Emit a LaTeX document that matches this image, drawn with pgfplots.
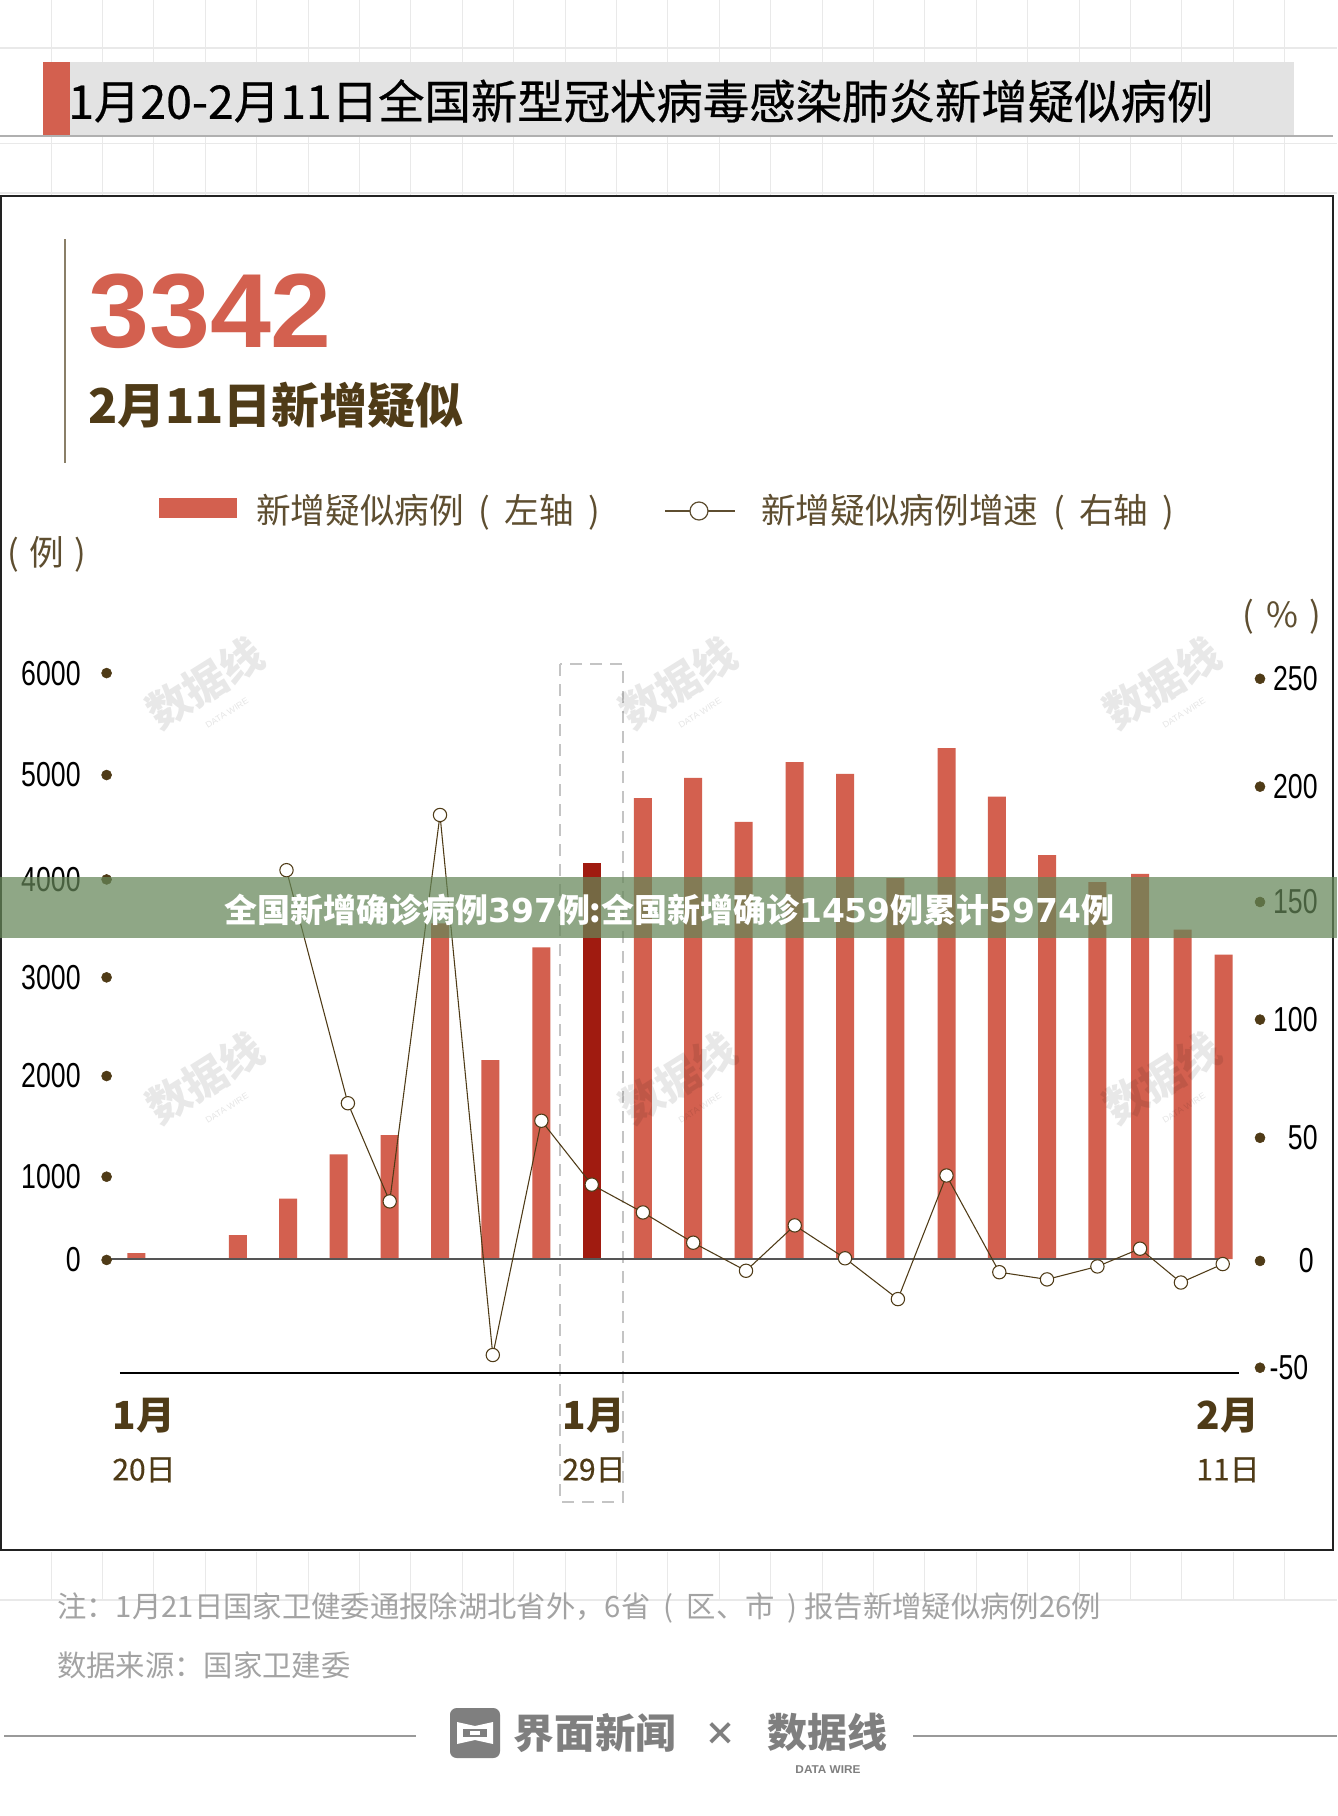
\documentclass[border=0pt]{standalone}
\usepackage{fontspec}
\usepackage{pgfplots}
\pgfplotsset{compat=1.18}
\setmainfont{Noto Sans CJK SC}
\newfontfamily\numfont[FakeStretch=0.77]{Liberation Sans}
\newfontfamily\bignum[FakeStretch=1.04]{Liberation Sans}
\newfontfamily\dv{DejaVu Sans}
\newfontfamily\med[FakeBold=0.5]{Noto Sans CJK SC}
\definecolor{barred}{HTML}{D3604F}
\definecolor{darkred}{HTML}{A01B10}
\definecolor{brown}{HTML}{4F3B17}
\definecolor{legbrown}{HTML}{5E4E30}
\definecolor{gridc}{HTML}{E9E9E9}
\definecolor{footgray}{HTML}{A3A3A3}
\definecolor{logogray}{HTML}{7F7F7F}
\definecolor{band}{HTML}{658658}
\definecolor{stripc}{HTML}{E3E3E3}
\definecolor{stripline}{HTML}{B0B0B0}
\definecolor{framec}{HTML}{222222}
\definecolor{sidebar}{HTML}{8A7F68}
\definecolor{boxc}{HTML}{C4C4C4}
\definecolor{basec}{HTML}{555555}
\definecolor{footline}{HTML}{999999}
\tikzset{px/.style={x=0.75pt,y=-0.75pt}}
\newcommand\parsp{\ \kern5pt}
\newcommand\dayl[1]{{\mdseries\med\fontsize{22.5}{26}\selectfont #1}}

% bar heights; x is the bar's horizontal position in the chart
\begin{document}
\begin{tikzpicture}
\begin{scope}[px]
\path[use as bounding box,fill=white] (0,0) rectangle (1337,1816);

% faint background grid
\foreach \x in {51,102.4,...,1330} {
  \draw[gridc,line width=0.5pt] (\x,0) -- (\x,195);
  \draw[gridc,line width=0.5pt] (\x,1552) -- (\x,1600);
}
\foreach \y in {48,143.5,193,1600}
  \draw[gridc,line width=1pt] (0,\y) -- (1337,\y);

% title strip
\fill[stripc] (70,62) rectangle (1294,135) ;
\fill[barred] (43,62) rectangle (70,135);
\draw[stripline,line width=1.4pt] (0,136) -- (1333,136);
\node[anchor=west,inner sep=0pt,font=\med\fontsize{34.8}{36}\selectfont] at (68,101) {1月20-2月11日全国新型冠状病毒感染肺炎新增疑似病例};

% frame
\draw[framec,line width=1.5pt] (0.5,195.6) rectangle (1333,1550);

% headline
\draw[sidebar,line width=0.8pt] (65,239) -- (65,463);
\node[anchor=west,inner sep=0pt,text=barred,font=\bignum\bfseries\fontsize{79}{84}\selectfont] at (88,311) {3342};
\node[anchor=west,inner sep=0pt,text=brown,font=\bfseries\fontsize{36}{38}\selectfont] at (88,405) {2月11日新增疑似};

% legend
\fill[barred] (159,497.5) rectangle (237,518);
\node[anchor=west,inner sep=0pt,text=legbrown,font=\fontsize{26}{28}\selectfont] at (256,512) {新增疑似病例\parsp(\parsp 左轴\parsp)};
\draw[legbrown,line width=0.9pt] (665,511) -- (735,511);
\draw[legbrown,fill=white,line width=0.9pt] (699,511) circle (9);
\node[anchor=west,inner sep=0pt,text=legbrown,font=\fontsize{26}{28}\selectfont] at (761,512) {新增疑似病例增速\parsp(\parsp 右轴\parsp)};
\node[anchor=west,inner sep=0pt,text=legbrown,font=\fontsize{26}{28}\selectfont] at (7,554) {(\ \kern2pt 例\ \kern2pt)};
\node[anchor=center,inner sep=0pt,text=legbrown,font=\fontsize{26}{28}\selectfont] at (1282,617) {(\ \kern3pt\%\ \kern3pt)};

% highlight box round 29 Jan
\draw[boxc,line width=0.8pt,dash pattern=on 9pt off 6pt] (560,664) rectangle (623,1502);
\end{scope}

\begin{axis}[
    at={(90pt,-1029.75pt)}, anchor=south west,
    scale only axis, width=839.25pt, height=549.75pt,
    xmin=120, xmax=1239, ymin=-1189, ymax=6455,
    clip=false,
    axis x line*=bottom, axis y line*=left,
    x axis line style={black,line width=1.5pt,-},
    y axis line style={draw=none},
    major tick length=0pt,
    xtick={144,594,1228},
    xticklabels={1月\\[4.5pt]\dayl{20日},1月\\[4.5pt]\dayl{29日},2月\\[4.5pt]\dayl{11日}},
    x tick label style={align=center,text=brown,font=\bfseries\fontsize{29}{34}\selectfont,yshift=-15pt},
    ytick={-10,858,1908,2937,3958,5047,6110},
    yticklabels={0,1000,2000,3000,4000,5000,6000},
    y tick label style={anchor=east,xshift=-26pt,text=black,font=\numfont\fontsize{26}{28}\selectfont},
]
\addplot[ybar,bar width=13.5pt,bar shift=0pt,fill=barred,draw=none] coordinates {
 (136.4,60) (237.9,250) (288.2,630) (338.5,1092) (389.7,1293) (440,3500) (490.3,2075) (541.4,3249)
 (642.9,4805) (693.2,5017) (743.5,4559) (794.7,5181) (845,5060) (895.3,3973) (946.5,5328) (996.8,4823)
 (1047,4213) (1097.4,3931) (1140,4015) (1182.6,3435) (1223.6,3175)
};
\addplot[ybar,bar width=13.5pt,bar shift=0pt,fill=darkred,draw=none] coordinates {(591.7,4131)};
\addplot[basec,line width=1.1pt] coordinates {(107,0) (1225,0)};
% tick dots of the left axis
\addplot[only marks,mark=*,mark size=3.75pt,brown] coordinates {
 (106.6,-10) (106.6,858) (106.6,1908) (106.6,2937) (106.6,3958) (106.6,5047) (106.6,6110)
};
\end{axis}

\begin{axis}[
    at={(90pt,-1029.75pt)}, anchor=south west,
    scale only axis, width=839.25pt, height=549.75pt,
    xmin=120, xmax=1239, ymin=-47.5, ymax=257.9,
    clip=false,
    hide x axis,
    axis y line*=right,
    y axis line style={draw=none},
    major tick length=0pt,
    ytick={-45.3,-0.8,50.5,99.75,148.75,196.8,241.75},
    yticklabels={-50\kern7pt,0\kern3pt,50,100,150,200,250},
    y tick label style={anchor=east,xshift=62.5pt,text=black,font=\numfont\fontsize{26}{28}\selectfont},
]
\addplot[brown,line width=0.8pt,mark=*,mark size=5pt,mark options={fill=white,draw=brown,line width=0.8pt}] coordinates {
 (286.5,162) (347.9,64.9) (389.7,24) (440,185) (492.8,-40) (541.4,57.6) (591.7,31) (642.9,19.4)
 (693.2,6.8) (746,-4.9) (794.7,14) (845,0.3) (897.9,-16.7) (946.5,34.8) (999.3,-5.5) (1047,-8.5)
 (1097.4,-3.1) (1140,4.3) (1180.9,-9.8) (1222.7,-2.1)
};
% tick dots of the right axis
\addplot[only marks,mark=*,mark size=3.75pt,brown] coordinates {
 (1260,-45.3) (1260,-0.8) (1260,50.5) (1260,99.75) (1260,148.75) (1260,196.8) (1260,241.75)
};
\end{axis}

\begin{scope}[px]
% watermarks
\foreach \wx in {205,678,1162} \foreach \wy in {683,1078} {
  \node[rotate=32,inner sep=0pt,align=center,black,opacity=0.09,font=\bfseries\fontsize{32}{34}\selectfont] at (\wx,\wy) {数据线};
  \node[rotate=32,inner sep=0pt,black,opacity=0.1,font=\bignum\fontsize{6.5}{7}\selectfont] at (\wx+22,\wy+30) {DATA WIRE};
}

% grey news banner across the chart
\fill[band,opacity=0.72] (0,877) rectangle (1337,938);
\node[inner sep=0pt,text=white,font=\bfseries\fontsize{24.7}{26}\selectfont] at (669.5,910) {全国新增确诊病例{\dv 397}例:全国新增确诊{\dv 1459}例累计{\dv 5974}例};

% footnotes
\node[anchor=west,inner sep=0pt,text=footgray,font=\fontsize{22}{24}\selectfont] at (57,1607.5) {注：1月21日国家卫健委通报除湖北省外，6省\parsp(\parsp 区、市\parsp)\ 报告新增疑似病例26例};
\node[anchor=west,inner sep=0pt,text=footgray,font=\fontsize{22}{24}\selectfont] at (57,1665.5) {数据来源：国家卫建委};

% footer logos
\draw[footline,line width=1.4pt] (4,1736.4) -- (416,1736.4);
\draw[footline,line width=1.4pt] (913,1736.4) -- (1337,1736.4);
\fill[logogray,rounded corners=5pt] (450,1708) rectangle (500,1758);
\fill[white] (457,1722) -- (475,1726) -- (475,1726) -- (493,1722) -- (493,1744) -- (475,1740) -- (457,1744) -- cycle;
\fill[logogray] (463,1729) rectangle (487,1737);
\fill[white] (470,1731) rectangle (480,1735);
\node[inner sep=0pt,text=logogray,font=\bfseries\fontsize{30.5}{33}\selectfont] at (595,1733) {界面新闻};
\node[inner sep=0pt,text=logogray,font=\bfseries\fontsize{24}{26}\selectfont] at (720,1734) {×};
\node[inner sep=0pt,text=logogray,font=\bfseries\fontsize{30}{32}\selectfont] at (827,1732) {数据线};
\node[inner sep=0pt,text=logogray,font=\bignum\bfseries\fontsize{8.5}{10}\selectfont] at (828,1770) {DATA WIRE};
\end{scope}
\end{tikzpicture}
\end{document}
